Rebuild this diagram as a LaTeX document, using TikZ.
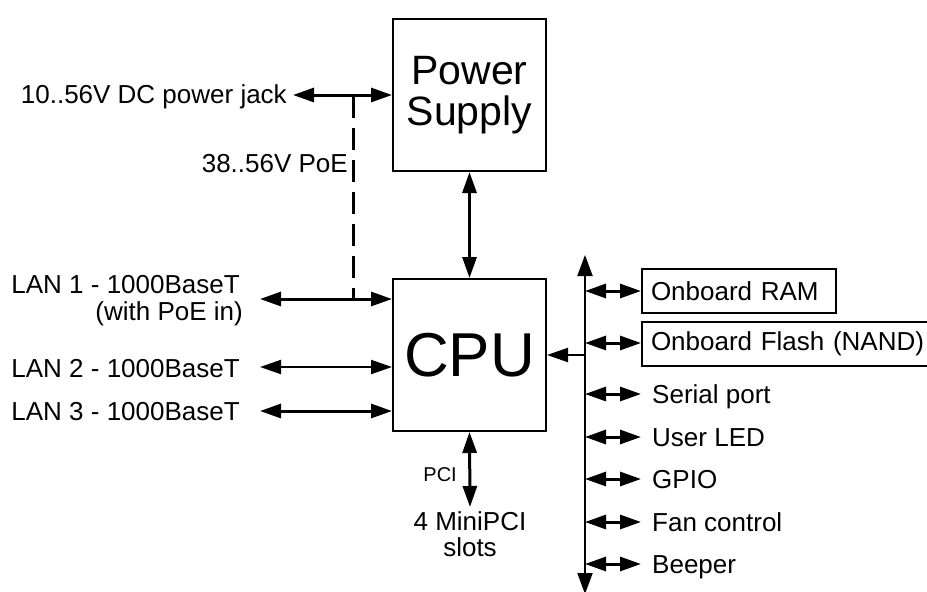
\documentclass[tikz,border=0pt]{standalone}
\usepackage{fontspec}
\setmainfont{Liberation Sans}
\usetikzlibrary{arrows.meta}
\begin{document}
\begin{tikzpicture}[x=1pt,y=-1pt,
  lbl/.style={font=\fontsize{26}{27}\selectfont, inner sep=0pt},
  blk/.style={draw, line width=2pt, minimum width=153pt, minimum height=152pt, inner sep=0pt},
  membox/.style={draw, line width=2pt, anchor=north west, minimum height=44pt, inner xsep=9pt, inner ysep=0pt, align=left, font=\fontsize{26}{27}\selectfont},
  biarrow/.style={line width=3pt, {Triangle[length=21pt,width=14pt]}-{Triangle[length=21pt,width=14pt]}},
  thinbi/.style={line width=2pt, {Triangle[length=21pt,width=14pt]}-{Triangle[length=21pt,width=14pt]}},
  onearrow/.style={line width=2pt, -{Triangle[length=21pt,width=14pt]}},
  poe/.style={line width=3pt, dash pattern=on 22pt off 10pt}]
\useasboundingbox (0,0) rectangle (927,592);
\fill[white] (0,0) rectangle (927,592);

% main blocks
\node[blk, align=center, font=\fontsize{41}{41}\selectfont] (ps) at (469.5,95) {Power\\Supply};
\node[blk, font=\fontsize{62}{62}\selectfont] (cpu) at (469.5,355) {CPU};

% memory boxes
\node[membox, text width=176pt] (ram) at (641,268) {Onboard RAM};
\node[membox, text width=290pt] (flash) at (641,321) {Onboard Flash (NAND)};

% left labels
\node[lbl, anchor=base east] (jack) at (287,103) {10..56V DC power jack};
\node[lbl, anchor=base east] (poelbl) at (348,172) {38..56V PoE};
\node[lbl, anchor=base east] (lan1) at (240,293) {LAN 1 - 1000BaseT};
\node[lbl, anchor=base east] (lan1b) at (243,320) {(with PoE in)};
\node[lbl, anchor=base east] (lan2) at (240,377) {LAN 2 - 1000BaseT};
\node[lbl, anchor=base east] (lan3) at (240,420) {LAN 3 - 1000BaseT};

% connector free ends
\coordinate (jackend) at (293,95);
\coordinate (poetop) at (353,96);
\coordinate (poebot) at (353,299);
\coordinate (lan1end) at (260,299);
\coordinate (lan2end) at (260,367);
\coordinate (lan3end) at (260,411);

% left connectors
\draw[biarrow] (jackend) -- (jackend -| ps.west);
\draw[poe] (poetop) -- (poebot);
\draw[biarrow] (lan1end) -- (lan1end -| cpu.west);
\draw[thinbi] (lan2end) -- (lan2end -| cpu.west);
\draw[biarrow] (lan3end) -- (lan3end -| cpu.west);

% power supply to CPU
\draw[biarrow] (ps.south) -- (cpu.north);

% PCI
\coordinate (pciend) at (470,507);
\draw[biarrow] (cpu.south) -- (pciend);
\node[font=\fontsize{20}{20}\selectfont, inner sep=0pt, anchor=base east] (pcilbl) at (457,481) {PCI};
\node[lbl, align=center, anchor=north, font=\fontsize{26}{26}\selectfont] (mpci) at (470,511) {4 MiniPCI\\slots};

% bus
\coordinate (bustop) at (585,255);
\coordinate (busbot) at (585,594);
\coordinate (buscpu) at (585,355);
\draw[line width=2pt, {Triangle[length=21pt,width=15pt]}-{Triangle[length=21pt,width=15pt]}] (bustop) -- (busbot);
\draw[onearrow] (buscpu) -- (cpu.east |- buscpu);

% bus taps
\coordinate (tram) at (585,291);
\coordinate (tflash) at (585,343);
\draw[biarrow] (tram) -- (tram -| ram.west);
\draw[biarrow] (tflash) -- (tflash -| flash.west);

\foreach \nm/\y/\txt in {ser/394/Serial port, led/437/User LED, gpio/479/GPIO, fan/522/Fan control, beep/564/Beeper}{
  \coordinate (t\nm) at (585,\y);
  \coordinate (e\nm) at (641,\y);
  \draw[biarrow] (t\nm) -- (e\nm);
  \node[lbl, anchor=base west] (\nm) at (652,\y+9) {\txt};
}
\end{tikzpicture}
\end{document}
